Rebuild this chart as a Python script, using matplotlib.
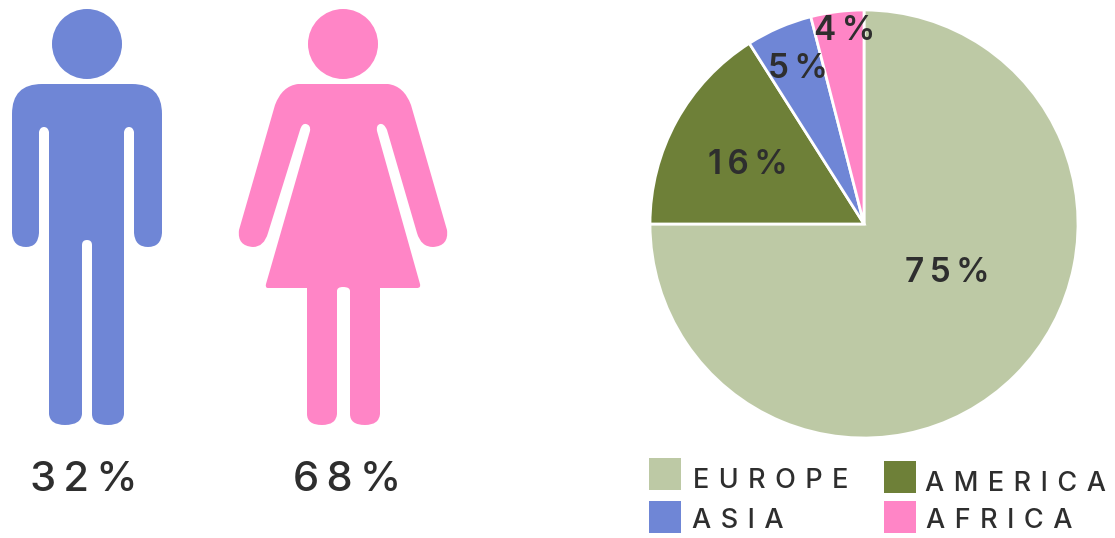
import matplotlib
matplotlib.use("Agg")
import matplotlib.pyplot as plt
from matplotlib.path import Path
from matplotlib.patches import PathPatch, Circle, Rectangle

W, H = 1115, 538
REGIONS = ["EUROPE", "AMERICA", "ASIA", "AFRICA"]
REGION_SHARE = [75, 16, 5, 4]
REGION_COLORS = ["#BDC9A5", "#6E8038", "#6F86D6", "#FF85C6"]
GENDER_SHARE = [32, 68]
MAN_COLOR, WOMAN_COLOR = "#6F86D6", "#FF85C6"
TEXT_COLOR = "#2E2E2E"
SP = "\u2009"

plt.rcParams['font.family'] = ['Montserrat', 'Inter', 'DejaVu Sans'] if False else ['Inter', 'DejaVu Sans']


def spaced(s, n=1):
    return (SP * n).join(s)


def build(cmds):
    verts, codes = [], []
    for c in cmds:
        if c[0] == 'M':
            verts.append(c[1]); codes.append(Path.MOVETO)
        elif c[0] == 'L':
            verts.append(c[1]); codes.append(Path.LINETO)
        elif c[0] == 'Q':
            verts += [c[1], c[2]]; codes += [Path.CURVE3, Path.CURVE3]
        elif c[0] == 'Z':
            verts.append((0, 0)); codes.append(Path.CLOSEPOLY)
    return Path(verts, codes)


fig = plt.figure(figsize=(W / 100, H / 100), dpi=100, facecolor="white")
bg = fig.add_axes([0, 0, 1, 1])
bg.set_xlim(0, W)
bg.set_ylim(H, 0)
bg.axis("off")

# man icon
man = [('M', (42, 84)), ('L', (132, 84)), ('Q', (162, 84), (162, 114)), ('L', (162, 233)),
       ('Q', (161, 247), (148, 247)), ('Q', (135, 247), (134, 233)), ('L', (134, 132)),
       ('Q', (133, 127), (129, 127)), ('Q', (125, 127), (124, 132)), ('L', (124, 414)),
       ('Q', (123, 425), (108, 425)), ('Q', (92, 425), (92, 414)), ('L', (92, 245)),
       ('Q', (92, 240), (87, 240)), ('Q', (82, 240), (82, 245)), ('L', (82, 414)),
       ('Q', (81, 425), (65, 425)), ('Q', (50, 425), (49, 414)), ('L', (49, 132)),
       ('Q', (48, 127), (44, 127)), ('Q', (40, 127), (39, 132)), ('L', (39, 233)),
       ('Q', (38, 247), (26, 247)), ('Q', (13, 247), (12, 233)), ('L', (12, 114)),
       ('Q', (12, 84), (42, 84)), ('Z',)]
bg.add_patch(PathPatch(build(man), fc=MAN_COLOR, ec="none"))
bg.add_patch(Circle((87, 44), 35, fc=MAN_COLOR, ec="none"))

# woman icon
woman = [('M', (298, 84)), ('L', (388, 84)), ('Q', (404, 86), (411, 105)), ('L', (447, 230)),
         ('Q', (449, 246), (433, 247)), ('Q', (421, 247), (417, 233)), ('L', (387, 130)),
         ('Q', (384, 123), (380, 124)), ('Q', (376, 125), (377, 131)), ('L', (420, 284)),
         ('Q', (421, 288), (417, 288)), ('L', (380, 288)), ('L', (380, 414)),
         ('Q', (379, 425), (365, 425)), ('Q', (350, 425), (350, 414)), ('L', (350, 291)),
         ('Q', (350, 287), (343, 287)), ('Q', (337, 287), (337, 291)), ('L', (337, 414)),
         ('Q', (336, 425), (322, 425)), ('Q', (307, 425), (307, 414)), ('L', (307, 288)),
         ('L', (268, 288)), ('Q', (265, 288), (266, 284)), ('L', (310, 131)),
         ('Q', (311, 125), (306, 124)), ('Q', (302, 123), (300, 130)), ('L', (268, 233)),
         ('Q', (264, 247), (253, 247)), ('Q', (237, 246), (239, 230)), ('L', (275, 105)),
         ('Q', (282, 86), (298, 84)), ('Z',)]
bg.add_patch(PathPatch(build(woman), fc=WOMAN_COLOR, ec="none"))
bg.add_patch(Circle((343, 44), 35, fc=WOMAN_COLOR, ec="none"))

# gender percentages
for v, x in zip(GENDER_SHARE, [84, 347]):
    bg.text(x, 476, spaced(f"{v}%", 1), fontsize=30, fontweight=500, color=TEXT_COLOR,
            ha="center", va="center_baseline")

# pie
cx, cy, r = 864, 224, 214
pax = fig.add_axes([(cx - r) / W, 1 - (cy + r) / H, 2 * r / W, 2 * r / H])
pax.pie(REGION_SHARE, colors=REGION_COLORS, startangle=90, counterclock=False, radius=1,
        wedgeprops=dict(edgecolor="white", linewidth=2.0), frame=True)
pax.set_xlim(-1, 1)
pax.set_ylim(-1, 1)
pax.axis("off")

for v, x, y in zip(REGION_SHARE, [947, 748, 798, 845], [269, 161, 65, 28]):
    bg.text(x, y, spaced(f"{v}%", 1), fontsize=24, fontweight=600, color=TEXT_COLOR,
            ha="center", va="center_baseline", zorder=5)
bg.set_zorder(3)
bg.patch.set_alpha(0)

# legend
squares = [(649, 458), (884, 461), (649, 501), (884, 501)]
label_pos = [(693, 488), (925, 491), (692, 528), (926, 528)]
for name, col, (sx, sy), (tx, ty) in zip(REGIONS, REGION_COLORS, squares, label_pos):
    bg.add_patch(Rectangle((sx, sy), 32, 32, fc=col, ec="none"))
    bg.text(tx, ty, spaced(name, 2), fontsize=19.5, fontweight=500, color=TEXT_COLOR,
            ha="left", va="baseline")

fig.savefig("out.png", dpi=100, facecolor="white")
